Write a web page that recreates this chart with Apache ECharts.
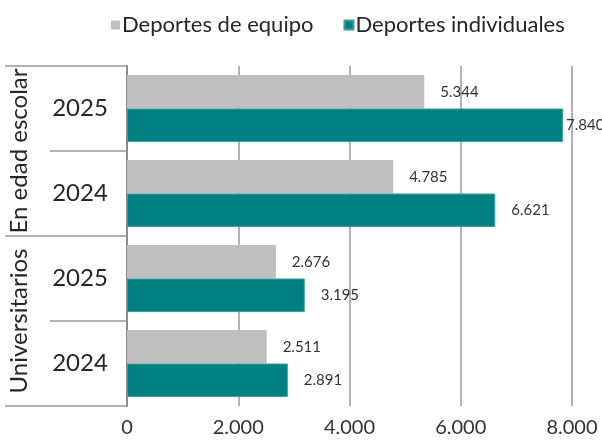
<!DOCTYPE html>
<html>
<head>
<meta charset="utf-8">
<script src="https://cdn.jsdelivr.net/npm/echarts@6/dist/echarts.min.js"></script>
<style>
  html, body { margin: 0; padding: 0; background: #fff; }
  #chart { width: 602px; height: 440px; }
</style>
</head>
<body>
<div id="chart"></div>
<script>
// Años (nivel interior del eje) y grupos (nivel exterior)
const years = ['2025', '2024', '2025', '2024'];
const groups = ['En edad escolar', 'Universitarios'];

// Licencias por tipo de deporte
const equipo = [5344, 4785, 2676, 2511];
const individuales = [7840, 6621, 3195, 2891];

const xTicks = { min: 0, max: 8000, interval: 2000 };

const FONT = 'Lato, "Open Sans", sans-serif';
const GRID_GRAY = '#9a9a9a';

// Separador de miles con punto
function fmt(v) {
  return String(Math.round(v)).replace(/\B(?=(\d{3})+(?!\d))/g, '.');
}

const chart = echarts.init(document.getElementById('chart'), null, { renderer: 'canvas' });

chart.setOption({
  animation: false,
  textStyle: { fontFamily: FONT },
  legend: {
    top: 9,
    left: 106,
    icon: 'rect',
    itemWidth: 9,
    itemHeight: 9,
    itemGap: 30,
    textStyle: { fontSize: 22, color: '#262626', fontFamily: FONT, padding: [0, 0, 0, -3] },
    data: ['Deportes de equipo', 'Deportes individuales']
  },
  grid: { left: 127, right: 30, top: 66, bottom: 34, containLabel: false },
  xAxis: {
    type: 'value',
    min: xTicks.min,
    max: xTicks.max,
    interval: xTicks.interval,
    axisLine: { show: false },
    axisTick: { show: false },
    splitLine: { lineStyle: { color: GRID_GRAY, width: 1.5 } },
    axisLabel: {
      formatter: fmt,
      fontSize: 20,
      color: '#333',
      margin: 12,
      fontFamily: FONT
    }
  },
  yAxis: [
    {
      type: 'category',
      data: years,
      inverse: true,
      position: 'left',
      axisLine: { show: true, lineStyle: { color: '#8c8c8c', width: 2 } },
      axisTick: { show: true, length: 77, interval: 0, lineStyle: { color: GRID_GRAY, width: 1.5 } },
      axisLabel: {
        interval: 0,
        fontSize: 24,
        color: '#262626',
        align: 'center',
        margin: 47,
        fontFamily: FONT
      }
    },
    {
      type: 'category',
      data: groups,
      inverse: true,
      position: 'left',
      offset: 0,
      axisLine: { show: false },
      axisTick: { show: true, length: 122, interval: 0, lineStyle: { color: GRID_GRAY, width: 1.5 } },
      axisLabel: {
        interval: 0,
        rotate: 90,
        fontSize: 24,
        color: '#262626',
        margin: 96,
        fontFamily: FONT
      }
    }
  ],
  series: [
    {
      name: 'Deportes de equipo',
      type: 'bar',
      yAxisIndex: 0,
      data: equipo,
      barGap: '0%',
      barCategoryGap: '21%',
      itemStyle: { color: '#bfbfbf' },
      label: {
        show: true,
        position: 'right',
        distance: 16,
        fontSize: 15,
        color: '#333',
        fontFamily: FONT,
        formatter: p => fmt(p.value)
      }
    },
    {
      name: 'Deportes individuales',
      type: 'bar',
      yAxisIndex: 0,
      data: individuales.map((v, i) => i === 0 ? { value: v, label: { distance: 3 } } : v),
      barGap: '0%',
      barCategoryGap: '21%',
      itemStyle: { color: '#008080', borderColor: '#3f9b9b', borderWidth: 1 },
      label: {
        show: true,
        position: 'right',
        distance: 16,
        fontSize: 15,
        color: '#333',
        fontFamily: FONT,
        formatter: p => fmt(p.value)
      }
    }
  ]
});
</script>
</body>
</html>
